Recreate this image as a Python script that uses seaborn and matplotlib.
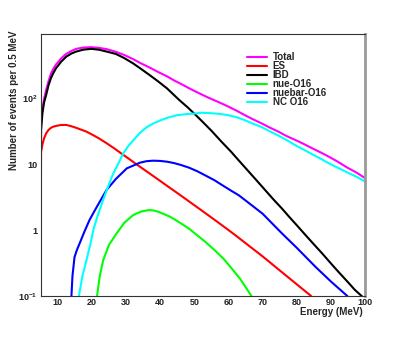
import numpy as np
import pandas as pd
import matplotlib
matplotlib.use('agg')
import seaborn as sns
import matplotlib.pyplot as plt
from matplotlib.ticker import FixedLocator, FuncFormatter, LogLocator, NullFormatter

# curves (energy in MeV, events per 0.5 MeV)
total_e = [5.0, 5.1, 5.5, 6.0, 6.6, 7.3, 8.0, 8.7, 9.5, 11.0, 12.5, 14.0, 15.4, 17.5,
           19.8, 22.0, 24.3, 27.0, 29.4, 32.0, 34.3, 37.0, 39.2, 42.0, 44.0, 46.5,
           49.0, 51.5, 54.0, 57.0, 59.9, 62.5, 64.8, 67.0, 69.7, 72.0, 74.6, 77.0,
           79.5, 82.0, 84.5, 87.0, 89.4, 92.0, 94.7, 97.5, 100.0]
total_n = [1.2, 38, 70, 100, 136, 185, 240, 285, 330, 410, 480, 530, 571, 598,
           605, 592, 565, 515, 462, 400, 345, 295, 257, 218, 190, 163,
           139, 120, 104, 89, 76, 65, 56, 49, 42, 36.5, 31.5, 27,
           23.6, 20.5, 17.6, 15.2, 13.1, 11.0, 9.0, 7.5, 6.2]

es_e = [5.0, 5.1, 5.5, 6.0, 6.6, 7.3, 8.0, 8.7, 9.5, 11.0, 12.5, 14.0, 15.4, 17.0,
        18.4, 20.0, 22.0, 24.3, 26.5, 28.5, 31.0, 33.1, 36.0, 39.0, 42.0, 46.1,
        50.8, 54.0, 58.0, 62.0, 65.8, 70.0, 75.0, 79.5, 84.0, 85.0]
es_n = [0.7, 15.6, 20, 25, 29.7, 33.5, 36, 37.5, 38.5, 39.8, 39.8, 38, 36, 33.5,
        31.5, 28.5, 25, 21, 17.6, 14.8, 12.0, 10.0, 7.85, 6.1, 4.73, 3.35,
        2.24, 1.7, 1.2, 0.84, 0.59, 0.40, 0.245, 0.158, 0.102, 0.09]

ibd_e = [5.0, 5.1, 5.5, 6.0, 6.6, 7.3, 8.0, 8.7, 9.5, 11.0, 12.5, 14.0, 15.4, 17.5,
         19.8, 22.0, 24.3, 27.0, 29.4, 32.0, 34.3, 37.0, 39.2, 42.0, 45.6, 48.0,
         50.0, 52.5, 55.0, 58.0, 60.8, 63.0, 65.0, 67.5, 70.0, 73.0, 75.6, 78.0,
         80.0, 82.5, 85.0, 87.5, 90.3, 92.5, 95.0, 97.0, 99.0, 100.0]
ibd_n = [1.0, 33, 60, 88, 114, 160, 205, 245, 290, 365, 435, 485, 519, 555,
         571, 555, 519, 478, 415, 345, 285, 226, 186, 143, 95, 74,
         59, 44, 32.5, 22, 15.5, 11.5, 8.8, 6.3, 4.5, 3.0, 2.15, 1.55,
         1.19, 0.85, 0.61, 0.44, 0.30, 0.224, 0.162, 0.124, 0.1, 0.088]

nue_e = [21.3, 21.5, 22.3, 23.3, 25.0, 27.2, 29.5, 32.1, 34.5, 36.6, 38.0, 39.5, 41.0,
         42.9, 44.5, 46.1, 48.5, 50.8, 53.0, 55.9, 58.5, 61.0, 63.5, 65.5, 66.7, 67.0]
nue_n = [0.08, 0.1, 0.2, 0.35, 0.6, 0.89, 1.3, 1.7, 1.93, 2.02, 2.0, 1.9, 1.77,
         1.6, 1.43, 1.27, 1.05, 0.84, 0.68, 0.5, 0.37, 0.26, 0.18, 0.125, 0.1, 0.09]

nuebar_e = [13.8, 14.0, 14.3, 14.9, 15.6, 16.4, 17.8, 19.3, 21.5, 24.3, 27.0, 30.2,
            34.0, 36.0, 38.0, 40.0, 42.0, 44.0, 46.1, 48.5, 50.8, 53.0, 55.9, 58.0,
            60.8, 63.0, 65.8, 70.0, 75.6, 80.0, 85.4, 90.0, 94.8, 95.0]
nuebar_n = [0.08, 0.1, 0.2, 0.39, 0.5, 0.63, 0.95, 1.43, 2.3, 4.1, 6.0, 8.7,
            10.6, 11.2, 11.4, 11.3, 11.0, 10.5, 9.8, 8.9, 7.9, 6.9, 5.75, 4.9,
            3.98, 3.4, 2.63, 1.78, 0.9, 0.54, 0.28, 0.166, 0.1, 0.095]

nc_e = [16.0, 16.2, 17.2, 18.4, 19.5, 20.5, 21.9, 23.3, 24.6, 26.0, 27.6, 29.2, 30.8,
        32.5, 34.3, 36.1, 38.0, 40.2, 42.5, 45.0, 47.5, 50.3, 52.0, 55.0, 57.5,
        59.9, 62.5, 64.8, 67.0, 69.7, 72.0, 74.6, 77.0, 79.5, 82.0, 84.5, 87.0,
        89.4, 92.0, 94.7, 97.5, 100.0]
nc_n = [0.08, 0.1, 0.2, 0.35, 0.6, 1.05, 1.8, 2.9, 4.4, 6.8, 10, 14.8, 19.5,
        24.5, 31, 37, 42, 47, 52, 56, 58, 59.5, 61, 60, 58.5,
        56, 52, 47, 42, 37, 32, 27.5, 23.5, 19.7, 16.8, 14.3, 12.2,
        10.4, 8.9, 7.6, 6.5, 5.5]

channels = ["Total", "ES", "IBD", "nue-O16", "nuebar-O16", "NC O16"]
colors = ["#ff00ff", "#ff0000", "#000000", "#00ff00", "#0000ff", "#00ffff"]

curves = [(total_e, total_n), (es_e, es_n), (ibd_e, ibd_n),
          (nue_e, nue_n), (nuebar_e, nuebar_n), (nc_e, nc_n)]
df = pd.concat([pd.DataFrame({"energy": e, "events": n, "channel": c})
                for c, (e, n) in zip(channels, curves)], ignore_index=True)

sns.set_style("white")
plt.rcParams['font.family'] = ['Liberation Sans', 'DejaVu Sans']
plt.rcParams['font.weight'] = 'bold'
plt.rcParams['mathtext.fontset'] = 'custom'
plt.rcParams['mathtext.rm'] = 'Liberation Sans:bold'
plt.rcParams['mathtext.bf'] = 'Liberation Sans:bold'
plt.rcParams['mathtext.it'] = 'Liberation Sans:bold'

fig = plt.figure(figsize=(4.07, 3.44), dpi=100)
ax = fig.add_axes([0.1, 0.1395, 0.797, 0.7608])

sns.lineplot(data=df, x="energy", y="events", hue="channel", hue_order=channels,
             palette=colors, sort=False, estimator=None, lw=1.5, ax=ax)

ax.set_yscale('log')
ax.set_xlim(5, 100)
ax.set_ylim(0.1, 950)

ax.xaxis.set_major_locator(FixedLocator(np.arange(10, 101, 10)))
ax.xaxis.set_minor_locator(FixedLocator(np.arange(6, 101, 2)))
ax.yaxis.set_major_locator(FixedLocator([0.1, 1, 10, 100]))
ax.yaxis.set_minor_locator(LogLocator(base=10, subs=np.arange(2, 10)))
ax.yaxis.set_minor_formatter(NullFormatter())
ylab = {0.1: "$10^{-1}$", 1: "1", 10: "10", 100: "$10^{2}$"}
ax.yaxis.set_major_formatter(FuncFormatter(lambda v, p: ylab.get(round(v, 3), "")))

ax.tick_params(which='both', direction='in', labelsize=6.5, colors='#222222')
ax.tick_params(which='major', length=4, width=0.6)
ax.tick_params(which='minor', length=2, width=0.6)
ax.tick_params(axis='x', pad=1.5)
ax.tick_params(axis='y', pad=2.5)
for lab in ax.get_xticklabels() + ax.get_yticklabels():
    lab.set_fontweight('bold')

for s in ['left', 'top', 'bottom']:
    ax.spines[s].set_color('#333333')
    ax.spines[s].set_linewidth(0.8)
ax.spines['right'].set_color('#999999')
ax.spines['right'].set_linewidth(2)

ax.set_xlabel("Energy (MeV)", fontsize=7, fontweight='bold')
ax.xaxis.set_label_coords(0.994, -0.06)
ax.xaxis.label.set_ha('right')
ax.xaxis.label.set_va('center')
ax.set_ylabel("Number of events per 0.5 MeV", fontsize=7, fontweight='bold')
ax.yaxis.set_label_coords(-0.082, 1.016)
ax.yaxis.label.set_ha('right')
ax.yaxis.label.set_va('center')

ax.legend(loc='upper left', bbox_to_anchor=(0.637, 0.932), frameon=False,
          handlelength=2.0, handletextpad=0.6, labelspacing=-0.1,
          borderpad=0, borderaxespad=0, prop={'weight': 'bold', 'size': 7})

fig.savefig("out.png", dpi=100)
